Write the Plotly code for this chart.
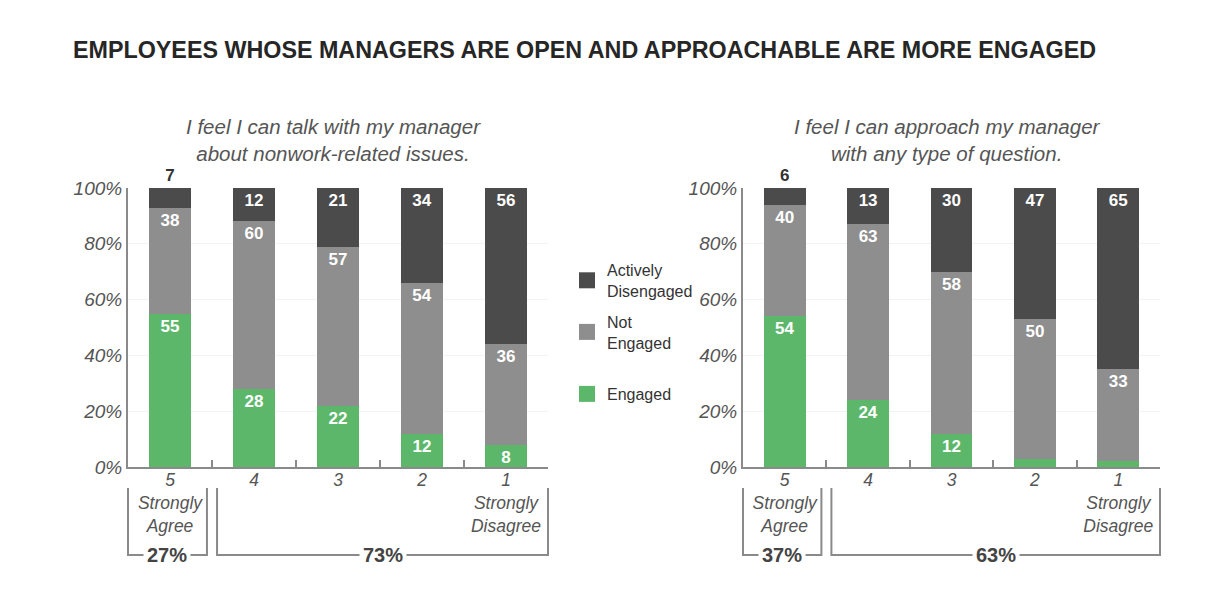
import plotly.graph_objects as go

# ---------------- data ----------------
categories = ["5", "4", "3", "2", "1"]
tick_labels = ["5<br>Strongly<br>Agree", "4", "3", "2", "1<br>Strongly<br>Disagree"]

left_engaged = [55, 28, 22, 12, 8]
left_not_engaged = [38, 60, 57, 54, 36]
left_active = [7, 12, 21, 34, 56]

right_engaged = [54, 24, 12, 3, 2]
right_not_engaged = [40, 63, 58, 50, 33]
right_active = [6, 13, 30, 47, 65]

left_subtitle = "I feel I can talk with my manager<br>about nonwork-related issues."
right_subtitle = "I feel I can approach my manager<br>with any type of question."
left_groups = ["27%", "73%"]
right_groups = ["37%", "63%"]
title_text = "EMPLOYEES WHOSE MANAGERS ARE OPEN AND APPROACHABLE ARE MORE ENGAGED"

series_names = ["Actively<br>Disengaged", "Not<br>Engaged", "\u00a0<br>Engaged<br>\u00a0"]

# ---------------- styles ----------------
GREEN = "#5db76b"
GREY = "#8e8e8e"
DARK = "#4b4b4b"
AXIS = "#8a8a8a"
SANS = "Liberation Sans, Arial, Helvetica, sans-serif"
LABEL_FONT = dict(family=SANS, size=17, color="white", weight="bold")
OUT_FONT = dict(family=SANS, size=17, color="#333333", weight="bold")

W, H = 1226, 592
OFF = 8  # page body margin


def px(x):
    return (x - OFF) / W


def py(y):
    return 1 - (y - OFF) / H


fig = go.Figure()


def labels(vals, small_thresh=5):
    return [str(v) if v >= small_thresh else "" for v in vals]


def add_panel(eng, notg, act, xa, ya):
    common = dict(width=0.5, textposition="inside", insidetextanchor="end",
                  insidetextfont=LABEL_FONT, textangle=0, showlegend=False,
                  constraintext="none", cliponaxis=False,
                  xaxis=xa, yaxis=ya, hoverinfo="skip", marker_line_width=0)
    fig.add_trace(go.Bar(x=categories, y=eng, marker_color=GREEN, text=labels(eng), **common))
    fig.add_trace(go.Bar(x=categories, y=notg, marker_color=GREY, text=labels(notg), **common))
    pos = ["outside" if v < 10 else "inside" for v in act]
    c2 = dict(common)
    c2["textposition"] = pos
    fig.add_trace(go.Bar(x=categories, y=act, marker_color=DARK, text=[str(v) for v in act],
                         outsidetextfont=OUT_FONT, **c2))


add_panel(left_engaged, left_not_engaged, left_active, "x", "y")
add_panel(right_engaged, right_not_engaged, right_active, "x2", "y2")

# legend entries (dummy traces)
for name, col in zip(series_names, [DARK, GREY, GREEN]):
    fig.add_trace(go.Scatter(x=[None], y=[None], mode="markers", name=name,
                             marker=dict(symbol="square", size=16, color=col),
                             xaxis="x", yaxis="y", legendgroup=name))

xaxis_common = dict(type="category", tickmode="array", tickvals=categories, ticktext=tick_labels,
                    tickson="boundaries", ticks="inside", ticklen=7, tickcolor=AXIS, tickwidth=1.5,
                    showline=True, linecolor=AXIS, linewidth=2, showgrid=False,
                    tickfont=dict(family=SANS, size=17.5, color="#555555", style="italic"),
                    ticklabelstandoff=-4, automargin=False,
                    range=[-0.5, 4.5], fixedrange=True)
yaxis_common = dict(range=[0, 100], tickvals=[0, 20, 40, 60, 80, 100],
                    ticktext=["0%", "20%", "40%", "60%", "80%", "100%"],
                    showline=True, linecolor=AXIS, linewidth=2, ticks="",
                    showgrid=True, gridcolor="#f3f3f3", gridwidth=1, zeroline=False,
                    tickfont=dict(family=SANS, size=19, color="#555555", style="italic"),
                    ticklabelstandoff=0, automargin=False, fixedrange=True)

fig.update_layout(
    width=W, height=H,
    margin=dict(l=0, r=0, t=0, b=0, autoexpand=False),
    paper_bgcolor="white", plot_bgcolor="white",
    barmode="stack", bargap=0.5,
    xaxis=dict(domain=[px(128), px(548)], anchor="y", **xaxis_common),
    yaxis=dict(domain=[py(467), py(188)], anchor="x", **yaxis_common),
    xaxis2=dict(domain=[px(743), px(1160)], anchor="y2", **xaxis_common),
    yaxis2=dict(domain=[py(467), py(188)], anchor="x2", **yaxis_common),
    title=dict(text=title_text, x=px(73), xanchor="left", y=py(50), yanchor="middle",
               yref="container", automargin=False,
               font=dict(family=SANS, size=23.3, color="#262626", weight="bold")),
    legend=dict(x=559 / W, y=py(253), xanchor="left", yanchor="top",
                font=dict(family=SANS, size=16, color="#333333"),
                tracegroupgap=7, itemwidth=30, bgcolor="rgba(0,0,0,0)"),
    showlegend=True,
)

# subtitles
for xa, txt in [("x", left_subtitle), ("x2", right_subtitle)]:
    fig.add_annotation(text=txt, xref=xa + " domain", yref="paper", x=0.49, y=py(140),
                       xanchor="center", yanchor="middle", showarrow=False,
                       font=dict(family=SANS, size=20.5, color="#555555", style="italic"))

# group brackets under the axes
shape_line = dict(color=AXIS, width=2)
y_top = py(488)
y_bot = py(555)
gap = 0.012
for xa, groups in [("x", left_groups), ("x2", right_groups)]:
    spans = [(0.0, 1 / 5 - gap), (1 / 5 + gap, 1.0)]
    for (a, b), lab in zip(spans, groups):
        fig.add_shape(type="path", xref=xa + " domain", yref="paper",
                      path=f"M {a},{y_top} L {a},{y_bot} L {b},{y_bot} L {b},{y_top}",
                      line=shape_line)
        fig.add_annotation(text=f"<b>{lab}</b>", xref=xa + " domain", yref="paper",
                           x=(a + b) / 2, y=y_bot, xanchor="center", yanchor="middle",
                           showarrow=False, bgcolor="white", borderpad=3,
                           font=dict(family=SANS, size=20, color="#444444"))

fig.write_html("out.html")
